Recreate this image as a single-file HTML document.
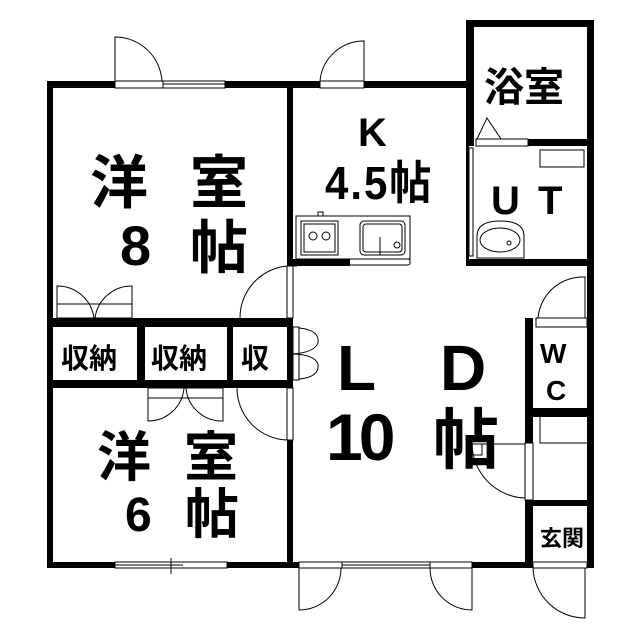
<!DOCTYPE html>
<html><head><meta charset="utf-8"><style>
html,body{margin:0;padding:0;background:#fff;}
svg{display:block}
text{font-family:"Liberation Sans","Noto Sans CJK JP",sans-serif;font-weight:bold;fill:#000}
</style></head><body>
<svg width="640" height="639" viewBox="0 0 640 639" xmlns="http://www.w3.org/2000/svg">
<rect width="640" height="639" fill="#fff"/>
<g fill="#000">
<rect x="47" y="81" width="68" height="7"/>
<rect x="225" y="81" width="68" height="7"/>
<rect x="47" y="81" width="6" height="487"/>
<rect x="287" y="81" width="6" height="185"/>
<rect x="287" y="81" width="33" height="7"/>
<rect x="364" y="81" width="110" height="7"/>
<rect x="466" y="20" width="128" height="7"/>
<rect x="466" y="20" width="8" height="126"/>
<rect x="587" y="20" width="7" height="548"/>
<rect x="528" y="139" width="66" height="7"/>
<rect x="466" y="259" width="128" height="7"/>
<rect x="466" y="146" width="3" height="113"/>
<rect x="287" y="259" width="63" height="7"/>
<rect x="287" y="318" width="6" height="70"/>
<rect x="287" y="440" width="6" height="128"/>
<rect x="47" y="318" width="246" height="9"/>
<rect x="47" y="380" width="246" height="8"/>
<rect x="137" y="318" width="8" height="70"/>
<rect x="227" y="318" width="6" height="70"/>
<rect x="47" y="562" width="68" height="6"/>
<rect x="227" y="562" width="66" height="6"/>
<rect x="287" y="562" width="12" height="6"/>
<rect x="472" y="562" width="61" height="6"/>
<rect x="525" y="318" width="8" height="125"/>
<rect x="525" y="500" width="8" height="68"/>
<rect x="525" y="318" width="5" height="8"/>
<rect x="533" y="408" width="54" height="9"/>
<rect x="533" y="500" width="54" height="6"/>
</g>
<g fill="none" stroke="#000" stroke-width="1">
<rect x="115" y="81" width="48" height="7"/>
<rect x="163" y="81" width="62" height="7"/>
<line x1="163" y1="84" x2="225" y2="84"/>
<path d="M115 81 V37 A47 47 0 0 1 162 81"/>
<rect x="320" y="81" width="44" height="7"/>
<path d="M364 81 V41 A44 44 0 0 0 320 81"/>
<rect x="476" y="139" width="52" height="7"/>
<path d="M477 139 L487 118 L501 139"/>
<rect x="540" y="150" width="44" height="17"/>
<rect x="469" y="148" width="4" height="108"/>
<path d="M477 258 V236 Q477 221 500 221 Q524 221 524 236 V258 Z"/>
<ellipse cx="500" cy="240" rx="20" ry="12"/>
<circle cx="509" cy="243" r="2"/>
<rect x="296" y="216" width="114" height="43"/>
<rect x="301" y="221" width="37" height="34"/>
<rect x="304" y="224" width="31" height="28"/>
<circle cx="313" cy="236" r="4"/><circle cx="326" cy="236" r="4"/>
<rect x="360" y="221" width="45" height="34" rx="4"/>
<rect x="363" y="224" width="39" height="28" rx="3"/>
<line x1="380" y1="237" x2="380" y2="255"/>
<circle cx="397" cy="245" r="3"/>
<rect x="318" y="212" width="5" height="4"/>
<rect x="349" y="259" width="61" height="6" rx="2"/>
<rect x="287" y="266" width="6" height="52"/>
<line x1="293" y1="266" x2="297" y2="266"/>
<path d="M287 266 A52 52 0 0 0 240 318"/>
<rect x="57" y="304" width="75" height="14"/>
<path d="M57 318 V286 A37 37 0 0 1 94 318"/>
<path d="M132 318 V286 A37 37 0 0 0 95 318"/>
<rect x="148" y="388" width="75" height="10"/>
<path d="M148 388 V421 A36 36 0 0 0 184 388"/>
<path d="M223 388 V421 A36 36 0 0 1 186 388"/>
<rect x="293" y="327" width="6" height="53"/>
<path d="M299 328 Q320 330 318 343 Q314 353 291 354"/>
<path d="M299 379 Q320 377 318 364 Q314 354 291 354"/>
<rect x="287" y="388" width="6" height="52"/>
<path d="M287 440 A52 52 0 0 1 237 388"/>
<rect x="115" y="562" width="112" height="6"/>
<line x1="115" y1="565" x2="183" y2="565"/>
<line x1="171" y1="558" x2="171" y2="574"/>
<rect x="299" y="562" width="43" height="6"/>
<rect x="342" y="562" width="88" height="6"/>
<line x1="342" y1="565" x2="430" y2="565"/>
<rect x="430" y="562" width="42" height="6"/>
<path d="M299 568 V610 A42 42 0 0 0 341 568"/>
<path d="M472 568 V610 A42 42 0 0 1 430 568"/>
<rect x="533" y="562" width="54" height="6"/>
<path d="M585 568 V618 A52 52 0 0 1 533 568"/>
<rect x="536" y="318" width="51" height="9"/>
<path d="M585 318 V277 A45 45 0 0 0 538 318"/>
<rect x="525" y="443" width="8" height="57"/>
<path d="M525 498 A55 55 0 0 1 472 444 H525"/>
<rect x="472" y="444" width="10" height="11"/>
<path d="M540 417 V443 H587"/>
</g>
<text x="90" y="203" font-size="58">洋</text>
<text x="190" y="203" font-size="58">室</text>
<text x="120" y="265" font-size="56">8</text>
<text x="190" y="268" font-size="58">帖</text>
<text x="358" y="146" font-size="40">K</text>
<text x="325" y="199" font-size="42" letter-spacing="2" transform="translate(0,-20) scale(1,1.1)">4.5帖</text>
<text x="484" y="101" font-size="40">浴室</text>
<text x="491" y="214" font-size="40">U</text>
<text x="538" y="214" font-size="40">T</text>
<text x="61" y="368" font-size="28">収納</text>
<text x="151" y="368" font-size="28">収納</text>
<text x="241" y="368" font-size="28">収</text>
<text x="97" y="476" font-size="54">洋</text>
<text x="184" y="476" font-size="54">室</text>
<text x="125" y="531" font-size="48">6</text>
<text x="185" y="533" font-size="54">帖</text>
<text x="337" y="390" font-size="64">L</text>
<text x="440" y="390" font-size="64">D</text>
<text x="326" y="460" font-size="66" letter-spacing="-4">10</text>
<text x="433" y="463" font-size="66">帖</text>
<text x="540" y="363" font-size="28">W</text>
<text x="546" y="400" font-size="28">C</text>
<text x="540" y="546" font-size="22">玄関</text>
</svg>
</body></html>
